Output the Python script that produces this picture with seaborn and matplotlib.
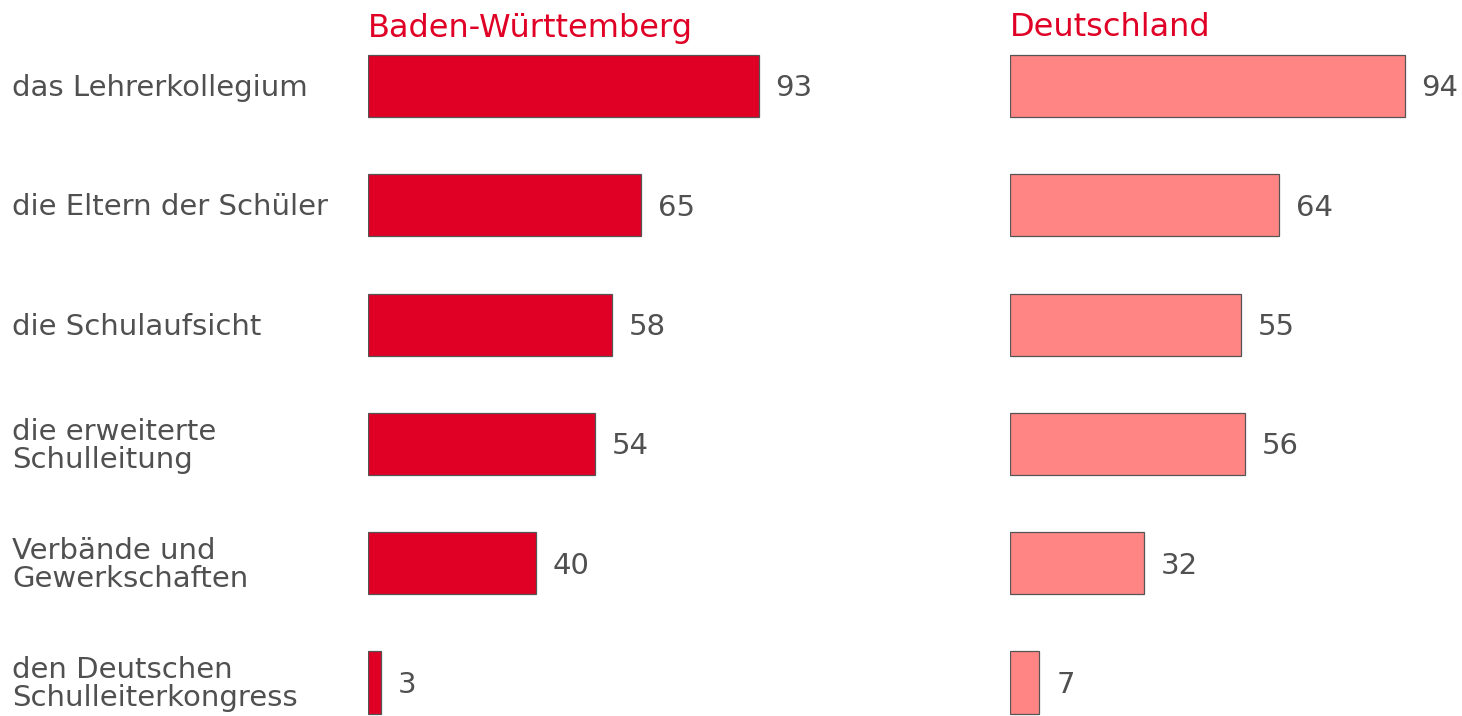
import pandas as pd
import matplotlib.pyplot as plt
import seaborn as sns

categories = [
    "das Lehrerkollegium",
    "die Eltern der Schüler",
    "die Schulaufsicht",
    "die erweiterte\nSchulleitung",
    "Verbände und\nGewerkschaften",
    "den Deutschen\nSchulleiterkongress",
]
bw_values = [93, 65, 58, 54, 40, 3]
de_values = [94, 64, 55, 56, 32, 7]
panel_titles = ["Baden-Württemberg", "Deutschland"]

df = pd.DataFrame({"kategorie": categories, "bw": bw_values, "de": de_values})

sns.set_theme(style="white")
plt.rcParams['font.family'] = ['DejaVu Sans']

RED = "#E00025"
PINK = "#FF8585"
TEXT = "#505050"

W, H = 1462, 716
fig = plt.figure(figsize=(W / 100, H / 100), dpi=100)

row = 119.3
top_px = 86 - row / 2
ax_h = H - top_px
ylim_bottom = -0.5 + ax_h / row


def add_panel(left_px, col, color, title):
    ax = fig.add_axes([left_px / W, 0, 420 / W, ax_h / H])
    sns.barplot(data=df, x=col, y="kategorie", color=color, width=0.52,
                edgecolor="#555555", linewidth=0.9, saturation=1, ax=ax)
    ax.set_xlim(0, 100)
    ax.set_ylim(ylim_bottom, -0.5)
    for i, v in enumerate(df[col]):
        ax.text(v + 4, i + 0.02, str(v), va="center", ha="left", fontsize=21, color=TEXT)
    ax.set_xlabel("")
    ax.set_ylabel("")
    ax.set_xticks([])
    ax.set_yticks([])
    for s in ax.spines.values():
        s.set_visible(False)
    ax.patch.set_alpha(0)
    fig.text(left_px / W, 1 - 28 / H, title, color=RED,
             fontsize=23, ha="left", va="center")
    return ax


ax1 = add_panel(368, "bw", RED, panel_titles[0])
ax2 = add_panel(1010, "de", PINK, panel_titles[1])

for i, lab in enumerate(categories):
    y_px = 88 + i * row
    fig.text(12 / W, 1 - y_px / H, lab, ha="left", va="center", fontsize=21,
             color=TEXT, linespacing=1.0)

fig.savefig("out.png", dpi=100)
